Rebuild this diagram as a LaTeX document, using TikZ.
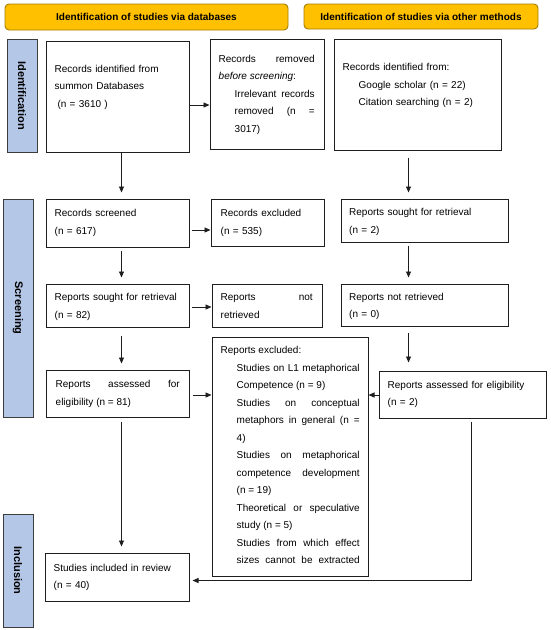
\documentclass[tikz,border=0pt]{standalone}
\usepackage{fontspec}
\setmainfont{Liberation Sans}
\usepackage{tikz}
\usetikzlibrary{arrows.meta}

\definecolor{hdrfill}{HTML}{FFC000}
\definecolor{hdrdraw}{HTML}{A67C00}
\definecolor{barfill}{HTML}{B4C7E7}
\definecolor{bardraw}{HTML}{3C3C3C}
\definecolor{boxdraw}{HTML}{1E1E1E}

\begin{document}
\begin{tikzpicture}[x=1pt, y=-1pt,
      every node/.append style={font=\fontsize{10}{17.5}\selectfont},
      flow/.style={draw=boxdraw, line width=0.9pt, -{Triangle[length=6pt,width=5pt]}, shorten <=2pt},
      vflow/.style={flow, shorten <=3pt, shorten >=6pt}]
    \tikzstyle{header} = [draw=hdrdraw, fill=hdrfill, line width=0.9pt, rounded corners=4pt, font=\fontsize{10}{12}\selectfont\bfseries]
    \tikzstyle{phase} = [draw=bardraw, fill=barfill, line width=0.9pt, rotate=-90, minimum height=30pt, font=\fontsize{11}{13}\selectfont\bfseries]
    \tikzstyle{box} = [draw=boxdraw, line width=1pt, inner sep=0pt]
    \tikzstyle{txt} = [anchor=base west, inner sep=0pt, align=left]
    \tikzstyle{jtxt} = [anchor=base west, inner sep=0pt, align=justify]
    \fill[white] (0,0) rectangle (550,630);
    \useasboundingbox (0,0) rectangle (550,630);

    \node[header, minimum width=283pt, minimum height=26pt] (hdrDb) at (146.5,17) {Identification of studies via databases};
    \node[header, minimum width=234pt, minimum height=25pt] (hdrOth) at (421,16.5) {Identification of studies via other methods};

    \node[phase, minimum width=113pt] (barId) at (22,95.5) {Identification};
    \node[phase, minimum width=218pt] (barScr) at (18,308) {Screening};
    \node[phase, minimum width=113pt] (barInc) at (18,570.5) {Inclusion};

    % identification
    \node[box, minimum width=143pt, minimum height=111pt] (recDb) at (117.5,96.5) {};
    \node[txt, text width=125pt] (recDbT) at ([shift={(9,31.5)}]recDb.north west) {Records identified from\\ summon Databases\\ \hspace*{2.8pt}(n = 3610 )};
    \node[box, minimum width=114pt, minimum height=110pt] (recRem) at (267,94) {};
    \node[jtxt, text width=96pt] (recRemT) at ([shift={(9,23.5)}]recRem.north west) {Records removed\break \textit{before screening}:\par
      \leftskip=16pt Irrelevant records\break removed (n =\break 3017)\par};
    \node[box, minimum width=167pt, minimum height=111pt] (recOth) at (417.5,94.5) {};
    \node[txt, text width=149pt] (recOthT) at ([shift={(9,32)}]recOth.north west) {Records identified from:\par
      \leftskip=16pt Google scholar (n = 22)\par Citation searching (n = 2)\par};

    % screening
    \node[box, minimum width=143pt, minimum height=48pt] (scr) at (117.5,223) {};
    \node[txt, text width=125pt] (scrT) at ([shift={(9,18)}]scr.north west) {Records screened\\(n = 617)};
    \node[box, minimum width=113pt, minimum height=47pt] (excl) at (267.5,222.5) {};
    \node[txt, text width=95pt] (exclT) at ([shift={(10,18)}]excl.north west) {Records excluded\\(n = 535)};
    \node[box, minimum width=167pt, minimum height=43pt] (soughtO) at (424.5,220.5) {};
    \node[txt, text width=149pt] (soughtOT) at ([shift={(8.5,17)}]soughtO.north west) {Reports sought for retrieval\\(n = 2)};

    \node[box, minimum width=143pt, minimum height=43pt] (sought) at (117.5,305.5) {};
    \node[txt, text width=126pt] (soughtT) at ([shift={(9,17)}]sought.north west) {Reports sought for retrieval\\(n = 82)};
    \node[box, minimum width=110pt, minimum height=43pt] (notret) at (267,305.5) {};
    \node[jtxt, text width=92pt] (notretT) at ([shift={(9,17)}]notret.north west) {Reports not\break retrieved};
    \node[box, minimum width=167pt, minimum height=42pt] (notretO) at (424.5,305) {};
    \node[txt, text width=149pt] (notretOT) at ([shift={(8.5,16.5)}]notretO.north west) {Reports not retrieved\\(n = 0)};

    \node[box, minimum width=143pt, minimum height=47pt] (assess) at (117.5,393.5) {};
    \node[jtxt, text width=124pt] (assessT) at ([shift={(10,18)}]assess.north west) {Reports assessed for\break eligibility (n = 81)};
    \node[box, minimum width=156pt, minimum height=239pt] (repExcl) at (290,456.5) {};
    \node[jtxt, text width=139pt] (repExclT) at ([shift={(9,17)}]repExcl.north west) {Reports excluded:\par
      \leftskip=16pt Studies on L1 metaphorical\break Competence (n = 9)\par
      Studies on conceptual\break metaphors in general (n =\break 4)\par
      Studies on metaphorical\break competence development\break (n = 19)\par
      Theoretical or speculative\break study (n = 5)\par
      Studies from which effect\break sizes cannot be extracted\parfillskip=0pt\par};
    \node[box, minimum width=167pt, minimum height=47pt] (assessO) at (462.5,394.5) {};
    \node[txt, text width=149pt] (assessOT) at ([shift={(9,17.5)}]assessO.north west) {Reports assessed for eligibility\\(n = 2)};

    % inclusion
    \node[box, minimum width=144pt, minimum height=48pt] (incl) at (117,577) {};
    \node[txt, text width=126pt] (inclT) at ([shift={(9,18.5)}]incl.north west) {Studies included in review\\(n = 40)};

    \coordinate (colL) at (121.5,0);
    \coordinate (colR) at (408.5,0);
    \coordinate (colR2) at (471,0);
    \coordinate (rowA) at (0,105);
    \coordinate (rowB) at (0,230);
    \coordinate (rowC) at (0,307);
    \coordinate (rowD) at (0,395);
    \coordinate (rowE) at (0,580.5);

    \draw[flow, shorten <=0pt] (recDb.east |- rowA) -- (recRem.west |- rowA);
    \draw[vflow, shorten <=0pt] (recDb.south -| colL) -- (scr.north -| colL);
    \draw[vflow, shorten <=7pt] (recOth.south -| colR) -- (soughtO.north -| colR);
    \draw[flow] (scr.east |- rowB) -- (excl.west |- rowB);
    \draw[vflow] (scr.south -| colL) -- (sought.north -| colL);
    \draw[vflow] (soughtO.south -| colR) -- (notretO.north -| colR);
    \draw[flow] (sought.east |- rowC) -- (notret.west |- rowC);
    \draw[vflow, shorten <=8pt] (sought.south -| colL) -- (assess.north -| colL);
    \draw[vflow, shorten <=6pt, shorten >=8pt] (notretO.south -| colR) -- (assessO.north -| colR);
    \draw[flow, shorten <=3pt] (assess.east |- rowD) -- (repExcl.west |- rowD);
    \draw[flow, shorten <=0pt] (assessO.west |- rowD) -- (repExcl.east |- rowD);
    \draw[vflow, shorten <=4pt] (assess.south -| colL) -- (incl.north -| colL);
    \draw[flow, shorten <=3pt, shorten >=3pt] (assessO.south -| colR2) |- (incl.east |- rowE);
\end{tikzpicture}
\end{document}
